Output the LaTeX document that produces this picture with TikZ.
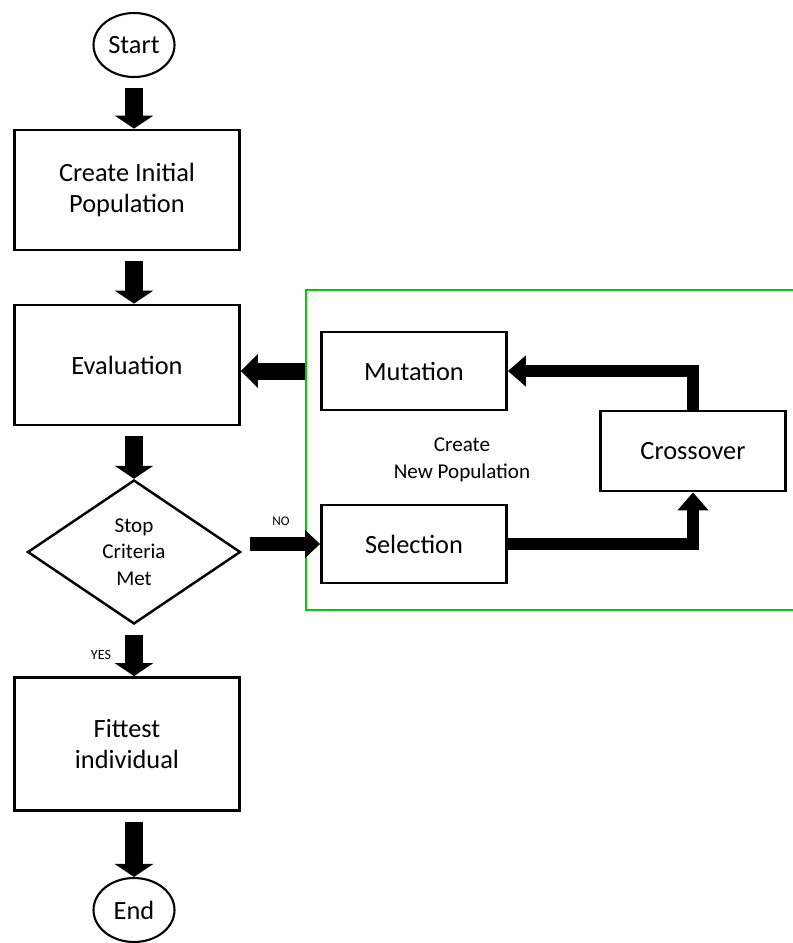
\documentclass[tikz,border=0pt]{standalone}
\usepackage{fontspec}
\setmainfont{Carlito}
\usepackage{tikz}
\usetikzlibrary{positioning}
\usetikzlibrary{shapes.geometric}
\usetikzlibrary{arrows.meta}

\begin{document}
\begin{tikzpicture}
  [
    x=0.02cm, y=-0.02cm,
    box/.style={draw=black, line width=1.6pt, minimum width=4.5cm,
      minimum height=2.4cm, align=center, inner sep=1mm,
      font=\fontsize{15}{18}\selectfont},
    opbox/.style={box, minimum width=3.7cm, minimum height=1.56cm},
    term/.style={ellipse, draw=black, line width=1.2pt, minimum width=1.62cm,
      minimum height=1.28cm, inner sep=0pt, font=\fontsize{15}{18}\selectfont},
    test/.style={diamond, draw=black, line width=1.4pt, aspect=1.48,
      minimum width=4.26cm, minimum height=2.88cm, inner sep=0pt, align=center,
      font=\fontsize{12}{15}\selectfont},
    down/.style={line width=0.36cm, shorten <=0.2cm,
      -{Triangle[width=0.76cm,length=0.26cm]}},
    back/.style={line width=0.34cm, shorten <=0.3cm,
      -{Triangle[width=0.66cm,length=0.34cm]}},
    nolink/.style={line width=0.28cm, shorten <=0.16cm,
      -{Triangle[width=0.54cm,length=0.3cm]}},
    loop/.style={line width=0.24cm,
      -{Triangle[width=0.6cm,length=0.36cm]}}
  ]
  \useasboundingbox (0,0) rectangle (792,943);

  \node (start) at (134,45)  [term] {Start};
  \node (init)  at (127,190) [box]  {Create Initial\\Population};
  \node (eval)  at (127,365) [box]  {Evaluation};
  \node (stop)  at (134,552) [test] {Stop\\Criteria\\Met};
  \node (best)  at (127,744) [box, minimum height=2.66cm] {Fittest\\individual};
  \node (end)   at (134,910) [term] {End};

  \node (mut)   at (414,371) [opbox] {Mutation};
  \node (sel)   at (414,544) [opbox] {Selection};
  \node (cross) at (693,451) [opbox, minimum height=1.6cm] {Crossover};
  \node (newpop) at (462,460) [align=center, font=\fontsize{12}{15}\selectfont]
    {Create\\New Population};

  \node (no)  at (281,521) [font=\fontsize{7.5}{9}\selectfont] {NO};
  \node (yes) at (101,655) [font=\fontsize{8}{9}\selectfont] {YES};

  % green frame runs off the right edge
  \draw [green!80!black, line width=1.3pt] (800,290) -- (306,290) -- (306,610) -- (800,610);

  \draw [down] (start.south) -- (start.south |- init.north);
  \draw [down] (start.south |- init.south) -- (start.south |- eval.north);
  \draw [down] (stop.north |- eval.south) -- (stop.north);
  \draw [down] (stop.south) -- (stop.south |- best.north);
  \draw [down] (start.south |- best.south) -- (end.north);

  \draw [back] (mut.west) -- (mut.west -| eval.east);
  \draw [nolink] (stop.east |- sel.west) -- (sel.west);
  \draw [loop] (sel.east) -| (cross.south);
  \draw [loop] (cross.north) |- (mut.east);
\end{tikzpicture}
\end{document}
